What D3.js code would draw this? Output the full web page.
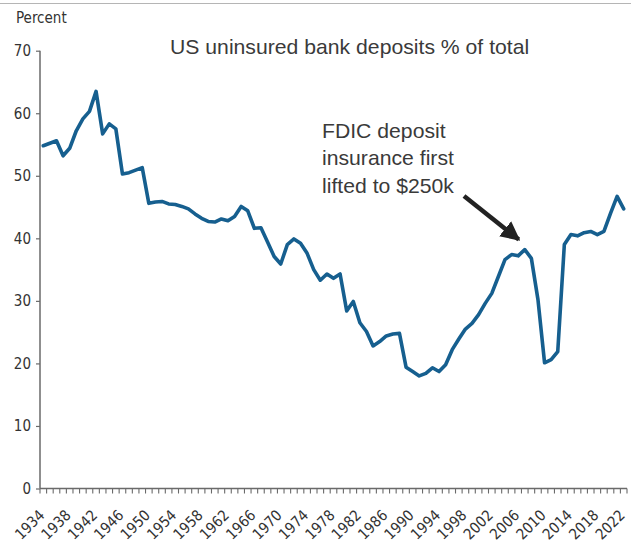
<!DOCTYPE html>
<html>
<head>
<meta charset="utf-8">
<script src="https://cdn.jsdelivr.net/npm/d3@7"></script>
<style>
  html, body { margin: 0; padding: 0; background: #fff; }
  svg { display: block; }
  .tick-lbl { font-family: "Liberation Sans Narrow", "DejaVu Sans Condensed", "Arial Narrow", sans-serif; font-stretch: condensed; fill: #333; }
  .note { font-family: "Liberation Sans", Arial, sans-serif; fill: #3a3a3a; }
</style>
</head>
<body>
<svg id="chart" width="631" height="544"></svg>
<script>
// Uninsured share of US bank deposits, annual, 1934-2022
const firstYear = 1934;
const lastYear = 2022;
const years = d3.range(firstYear, lastYear + 1);
const uninsuredPct = [
  54.8, 55.2, 55.6, 53.2, 54.4, 57.2, 59.1, 60.3, 63.5, 56.7,
  58.3, 57.5, 50.3, 50.5, 50.9, 51.3, 45.6, 45.8, 45.9, 45.5,
  45.4, 45.1, 44.7, 43.9, 43.2, 42.7, 42.6, 43.1, 42.8, 43.5,
  45.1, 44.4, 41.6, 41.7, 39.4, 37.1, 35.9, 39.0, 39.9, 39.2,
  37.6, 35.0, 33.3, 34.3, 33.6, 34.3, 28.4, 29.9, 26.5, 25.1,
  22.8, 23.5, 24.4, 24.7, 24.8, 19.4, 18.7, 18.0, 18.4, 19.3,
  18.7, 19.8, 22.2, 23.9, 25.5, 26.4, 27.8, 29.6, 31.2, 33.9,
  36.6, 37.4, 37.2, 38.2, 36.8, 30.2, 20.1, 20.6, 21.9, 39.0,
  40.6, 40.4, 40.9, 41.1, 40.6, 41.1, 44.0, 46.7, 44.7
];
const yTicks = [0, 10, 20, 30, 40, 50, 60, 70];
const labelEvery = 4;
const titleText = "US uninsured bank deposits % of total";
const unitText = "Percent";
const noteLines = ["FDIC deposit", "insurance first", "lifted to $250k"];
const noteYear = 2007;

const svg = d3.select("#chart");
const plot = { left: 40, right: 627, top: 50.7, bottom: 488.5 };

const x = d3.scaleBand().domain(years).range([plot.left, plot.right]).paddingInner(0).paddingOuter(0);
const xc = d => x(d) + x.bandwidth() / 2;
const y = d3.scaleLinear().domain([0, 70]).range([plot.bottom, plot.top]);

// thin rule along the top edge
svg.append("line").attr("x1", 0).attr("x2", 631).attr("y1", 3.5).attr("y2", 3.5)
  .attr("stroke", "#b5b5b5").attr("stroke-width", 1);

const axisColor = "#6a6a6a";

// y axis
const yAxis = d3.axisLeft(y).tickValues(yTicks).tickSize(4).tickPadding(5);
const gy = svg.append("g").attr("transform", `translate(${plot.left},0)`).call(yAxis);
gy.select(".domain").attr("stroke", axisColor).attr("stroke-width", 1.5).attr("d", `M0,${plot.bottom}V${plot.top}`);
gy.selectAll(".tick line").attr("stroke", axisColor).attr("stroke-width", 1.2);
gy.selectAll(".tick text").attr("class", "tick-lbl").attr("font-size", 15).attr("font-family", null).attr("fill", null);

// x axis: one tick per category boundary, labels every few years
const gx = svg.append("g");
gx.append("line").attr("x1", plot.left).attr("x2", plot.right)
  .attr("y1", plot.bottom).attr("y2", plot.bottom)
  .attr("stroke", axisColor).attr("stroke-width", 1.5);
const bounds = years.map(d => x(d)).concat([plot.right]);
gx.selectAll("line.xt").data(bounds).join("line").attr("class", "xt")
  .attr("x1", d => d).attr("x2", d => d)
  .attr("y1", plot.bottom).attr("y2", plot.bottom + 5)
  .attr("stroke", axisColor).attr("stroke-width", 1.1);
gx.selectAll("text").data(years.filter(d => (d - firstYear) % labelEvery === 0)).join("text")
  .attr("class", "tick-lbl").attr("font-size", 15)
  .attr("text-anchor", "end")
  .attr("transform", d => `translate(${xc(d) - 1.5},${plot.bottom + 24}) rotate(-45)`)
  .attr("dy", "0.35em")
  .text(d => d);

// unit label
svg.append("text").attr("class", "tick-lbl").attr("font-size", 15)
  .attr("x", 16).attr("y", 23).text(unitText);

// series line
const line = d3.line().x((d, i) => xc(years[i])).y(d => y(d));
svg.append("path").datum(uninsuredPct)
  .attr("d", line).attr("fill", "none")
  .attr("stroke", "#165f8f").attr("stroke-width", 3.6)
  .attr("stroke-linejoin", "round").attr("stroke-linecap", "round");

// title
svg.append("text").attr("class", "note").attr("font-size", 20)
  .attr("transform", "translate(170,54) scale(1.06,1)").text(titleText);

// annotation
const note = svg.append("text").attr("class", "note").attr("font-size", 20)
  .attr("transform", "translate(322,0) scale(1.06,1)");
noteLines.forEach((t, i) => note.append("tspan").attr("x", 0).attr("y", 138 + i * 27.5).text(t));

// arrow pointing at the annotated year
const ni = years.indexOf(noteYear);
const tipX = xc(noteYear) - 6;
const tipY = y(uninsuredPct[ni]) - 10;
svg.append("defs").append("marker").attr("id", "ah")
  .attr("viewBox", "0 0 10 10").attr("refX", 9).attr("refY", 5)
  .attr("markerWidth", 4.3).attr("markerHeight", 4.3).attr("orient", "auto")
  .attr("markerUnits", "strokeWidth")
  .append("path").attr("d", "M0,0L10,5L0,10z").attr("fill", "#222");
svg.append("line").attr("x1", 464).attr("y1", 196).attr("x2", tipX).attr("y2", tipY)
  .attr("stroke", "#222").attr("stroke-width", 4.5).attr("marker-end", "url(#ah)");
</script>
</body>
</html>
